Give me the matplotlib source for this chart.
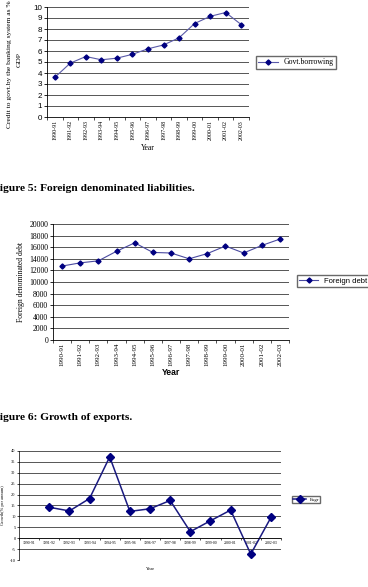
import numpy as np
import matplotlib
matplotlib.use("Agg")
import matplotlib.pyplot as plt

years = ["1990-91", "1991-92", "1992-93", "1993-94", "1994-95", "1995-96", "1996-97",
         "1997-98", "1998-99", "1999-00", "2000-01", "2001-02", "2002-03"]
govt_borrowing = [3.6, 4.9, 5.5, 5.2, 5.35, 5.7, 6.2, 6.55, 7.2, 8.5, 9.15, 9.5, 8.4]
foreign_debt = [12750, 13300, 13650, 15300, 16750, 15100, 15000, 14000, 14900,
                16200, 15000, 16300, 17400]
export_growth = [np.nan, 14.2, 12.5, 18.2, 37.3, 12.3, 13.5, 17.3, 3.0, 8.0, 12.9, -7.3, 9.5]

W, H = 368, 587
fig = plt.figure(figsize=(W / 100, H / 100), dpi=100)
fig.patch.set_facecolor("white")
serif = "Liberation Serif"
sans = "Liberation Sans"


def ax_px(l, t, r, b):
    return fig.add_axes([l / W, 1 - b / H, (r - l) / W, (b - t) / H])


def fx(x):
    return x / W


def fy(y):
    return 1 - y / H


def cat_axis(ax, n, rot, fs, family, pad=2, minor_len=2.5):
    ax.set_xlim(-0.5, n - 0.5)
    ax.set_xticks(np.arange(n))
    ax.set_xticklabels(years, rotation=rot, fontsize=fs, family=family)
    ax.tick_params(axis="x", which="major", length=0, pad=pad)
    ax.set_xticks(np.arange(n + 1) - 0.5, minor=True)
    ax.tick_params(axis="x", which="minor", length=minor_len, width=0.6, color="#333333")


x = np.arange(len(years))

# ---- chart 1
ax1 = ax_px(47, 7, 249, 117)
ax1.plot(x, govt_borrowing, color="#5a5aa8", lw=0.8, marker="D", ms=2.6,
         mfc="#000080", mec="#000080", label="Govt.borrowing")
ax1.set_ylim(0, 10)
ax1.set_yticks(range(0, 11))
ax1.set_yticklabels([str(v) for v in range(0, 11)], fontsize=5.8, family=sans)
ax1.tick_params(axis="y", length=2, width=0.6, pad=1.5)
ax1.grid(axis="y", color="#555555", lw=0.7)
ax1.set_axisbelow(True)
cat_axis(ax1, len(years), 90, 4.3, serif)
for s in ["top", "right"]:
    ax1.spines[s].set_visible(False)
ax1.spines["left"].set_linewidth(0.6)
ax1.spines["bottom"].set_linewidth(0.6)
ax1.set_xlabel("Year", fontsize=5.5, family=serif, labelpad=3)
fig.text(fx(14), fy(60), "Credit to govt.by the banking system as % of\nGDP", rotation=90,
         ha="center", va="center", fontsize=5.4, family=serif, linespacing=2.1)
ax1.legend(loc="upper left", bbox_to_anchor=(fx(256), fy(56)), bbox_transform=fig.transFigure,
           prop={"family": serif, "size": 5.6}, frameon=True, fancybox=False,
           edgecolor="#444444", handlelength=2.5, borderpad=0.3, borderaxespad=0)

# ---- caption 5
fig.text(fx(-7), fy(189), "Figure 5: Foreign denominated liabilities.", fontsize=8.2,
         family=serif, weight="bold", ha="left", va="center")

# ---- chart 2
ax2 = ax_px(53, 224, 289, 340)
ax2.plot(x, foreign_debt, color="#4a4aa0", lw=0.8, marker="D", ms=2.6,
         mfc="#000080", mec="#000080", label="Foreign debt")
ax2.set_ylim(0, 20000)
ax2.set_yticks(range(0, 20001, 2000))
ax2.set_yticklabels([str(v) for v in range(0, 20001, 2000)], fontsize=5.6, family=serif)
ax2.tick_params(axis="y", length=2, width=0.6, pad=1.5)
ax2.grid(axis="y", color="#555555", lw=0.7)
ax2.set_axisbelow(True)
cat_axis(ax2, len(years), 90, 5.0, serif)
for s in ["top", "right"]:
    ax2.spines[s].set_visible(False)
ax2.spines["left"].set_linewidth(0.6)
ax2.spines["bottom"].set_linewidth(0.6)
ax2.set_xlabel("Year", fontsize=6.2, family=sans, weight="bold", labelpad=1)
ax2.set_ylabel("Foreign denominated debt", fontsize=5.5, family=serif, labelpad=3)
ax2.legend(loc="upper left", bbox_to_anchor=(fx(297), fy(275)), bbox_transform=fig.transFigure,
           prop={"family": sans, "size": 5.5}, frameon=True, fancybox=False,
           edgecolor="#444444", handlelength=2.5, borderpad=0.3, borderaxespad=0)

# ---- caption 6
fig.text(fx(-7), fy(418), "Figure 6: Growth of exports.", fontsize=8.2,
         family=serif, weight="bold", ha="left", va="center")

# ---- chart 3
ax3 = ax_px(19, 451, 281, 560)
for s in ["top", "right"]:
    ax3.spines[s].set_visible(False)
ax3.spines["bottom"].set_position(("data", 0))
ax3.spines["left"].set_linewidth(0.5)
ax3.spines["bottom"].set_linewidth(0.5)
ax3.plot(x, export_growth, color="#1a1a80", lw=1.1, marker="D", ms=3.6,
         mfc="#000080", mec="#000080", label="Exgr")
ax3.set_ylim(-10, 40)
ax3.set_yticks(range(-10, 41, 5))
ax3.set_yticklabels([str(v) for v in range(-10, 41, 5)], fontsize=3.2, family=serif)
ax3.tick_params(axis="y", length=1.5, width=0.5, pad=1)
ax3.grid(axis="y", color="#555555", lw=0.7)
ax3.set_axisbelow(True)
cat_axis(ax3, len(years), 0, 2.8, serif, pad=2, minor_len=1.5)
fig.text(fx(150), fy(569), "Year", fontsize=3.5, family=serif, ha="center", va="center")
fig.text(fx(3), fy(505), "Growth(% per annum)", rotation=90, fontsize=3.2, family=serif,
         ha="center", va="center")
ax3.legend(loc="upper left", bbox_to_anchor=(fx(292), fy(496)), bbox_transform=fig.transFigure,
           prop={"family": serif, "size": 3.5}, frameon=True, fancybox=False,
           edgecolor="#444444", handlelength=2.5, borderpad=0.3, borderaxespad=0)

fig.savefig("out.png", dpi=100)
